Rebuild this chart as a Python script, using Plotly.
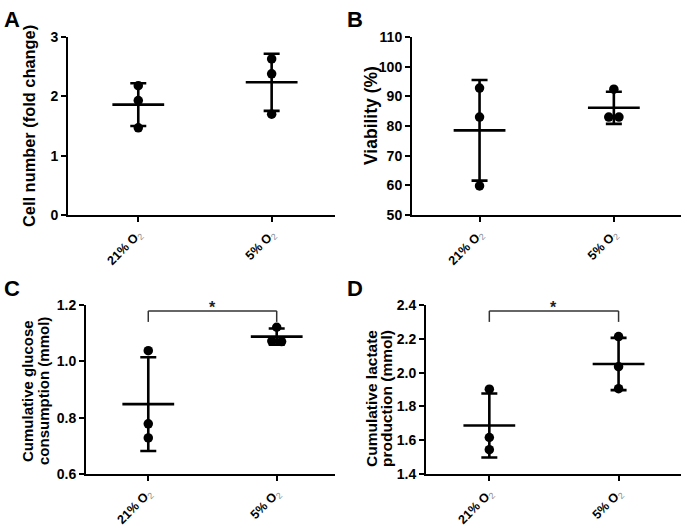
import plotly.graph_objects as go
import numpy as np

# ---------------- data ----------------
groups = ["21% O2", "5% O2"]

cell_21 = [2.18, 1.93, 1.47]
cell_5 = [2.63, 2.38, 1.70]

via_21 = [92.8, 83.0, 59.8]
via_5 = [92.4, 83.0, 83.0]

glu_21 = [1.038, 0.778, 0.728]
glu_5 = [1.121, 1.072, 1.070]

lac_21 = [1.902, 1.616, 1.544]
lac_5 = [2.213, 2.035, 1.905]

panel_letters = ["A", "B", "C", "D"]
y_titles = [["Cell number (fold change)"], ["Viability (%)"],
            ["Cumulative glucose", "consumption (mmol)"],
            ["Cumulative lactate", "production (mmol)"]]
y_ranges = [[0, 3], [50, 110], [0.6, 1.2], [1.4, 2.4]]
y_ticks = [[0, 1, 2, 3], [50, 60, 70, 80, 90, 100, 110],
           [0.6, 0.8, 1.0, 1.2], [1.4, 1.6, 1.8, 2.0, 2.2, 2.4]]
y_formats = ["{:d}", "{:d}", "{:.1f}", "{:.1f}"]
sig_panels = [False, False, True, True]

panels = [(cell_21, cell_5), (via_21, via_5), (glu_21, glu_5), (lac_21, lac_5)]

# ---------------- layout geometry (page pixels) ----------------
W, H = 687, 527


def px(xp):
    return xp / W


def py(yp):
    return 1 - yp / H


x_doms = [[px(68), px(335)], [px(412), px(681)], [px(86), px(335)], [px(426), px(681)]]
y_doms = [[py(215), py(37)], [py(215), py(37)], [py(474), py(305)], [py(474), py(305)]]
x_ranges = [[-0.527, 1.475], [-0.503, 1.50], [-0.485, 1.454], [-0.49, 1.483]]

# y-title placement: x centre of each line, y centre, font size
title_x = [[29], [371], [27, 43], [371, 386]]
title_y = [126, 116, 391, 399]
title_size = [16.4, 17.5, 15, 15.5]
letter_pos = [(2, 5), (345, 5), (2, 274), (345, 274)]

FONT = "Liberation Sans, Arial, sans-serif"
tick_text = ["<b>" + g.replace("O2", "O</b><sub><span style='color:#8a8a8a'>2</span></sub>")
             for g in groups]


def jitter(vals, yrange, step=0.038):
    """Spread points that would overlap at nearly the same value."""
    vals = list(vals)
    tol = 0.04 * (yrange[1] - yrange[0])
    offs = [0.0] * len(vals)
    used = [False] * len(vals)
    for i in range(len(vals)):
        if used[i]:
            continue
        cluster = [i]
        for j in range(i + 1, len(vals)):
            if not used[j] and abs(vals[j] - vals[i]) < tol:
                cluster.append(j)
        n = len(cluster)
        for k, idx in enumerate(cluster):
            used[idx] = True
            offs[idx] = (k - (n - 1) / 2) * 2 * step / (n - 1) if n > 1 else 0.0
    return offs


fig = go.Figure()

for p, (g21, g5) in enumerate(panels):
    sfx = "" if p == 0 else str(p + 1)
    xa, ya = "x" + sfx, "y" + sfx
    for gi, vals in enumerate([g21, g5]):
        vals = np.array(vals, dtype=float)
        offs = jitter(vals, y_ranges[p])
        xs = [gi + o for o in offs]
        fig.add_trace(go.Scatter(
            x=xs, y=vals, mode="markers", xaxis=xa, yaxis=ya,
            marker=dict(symbol="circle", size=9.5, color="black"),
            showlegend=False, hoverinfo="y"))
        mean = vals.mean()
        sd = vals.std(ddof=1)
        fig.add_trace(go.Scatter(
            x=[gi], y=[mean], mode="markers", xaxis=xa, yaxis=ya,
            marker=dict(symbol="line-ew", size=37, color="black",
                        line=dict(color="black", width=2.6)),
            error_y=dict(type="data", array=[sd], visible=True,
                         color="black", thickness=2.6, width=8),
            showlegend=False, hoverinfo="y"))

layout = dict(
    width=W, height=H,
    margin=dict(l=0, r=0, t=0, b=0, pad=0, autoexpand=False),
    paper_bgcolor="white", plot_bgcolor="white",
    font=dict(family=FONT, color="black", size=13),
    showlegend=False,
)

annotations = []
shapes = []
for p in range(4):
    sfx = "" if p == 0 else str(p + 1)
    layout["xaxis" + sfx] = dict(
        domain=x_doms[p], anchor="y" + sfx, range=x_ranges[p], automargin=False,
        tickmode="array", tickvals=[0, 1], ticktext=tick_text,
        tickangle=-45, ticks="outside", ticklen=5, tickwidth=2, tickcolor="black",
        showline=True, linecolor="black", linewidth=2,
        showgrid=False, zeroline=False, fixedrange=True,
        tickfont=dict(family=FONT, size=12.5, color="black"),
    )
    layout["yaxis" + sfx] = dict(
        domain=y_doms[p], anchor="x" + sfx, range=y_ranges[p], automargin=False,
        tickmode="array", tickvals=y_ticks[p],
        ticktext=["<b>" + y_formats[p].format(v) + "</b>" for v in y_ticks[p]],
        ticks="outside", ticklen=5, tickwidth=2, tickcolor="black",
        showline=True, linecolor="black", linewidth=2,
        showgrid=False, zeroline=False, fixedrange=True,
        tickfont=dict(family=FONT, size=14, color="black"),
    )
    # y-axis titles (one annotation per line)
    for line_text, lx in zip(y_titles[p], title_x[p]):
        annotations.append(dict(
            text="<b>" + line_text + "</b>", xref="paper", yref="paper",
            x=px(lx), y=py(title_y[p]), xanchor="center", yanchor="middle",
            textangle=-90, showarrow=False,
            font=dict(family=FONT, size=title_size[p], color="black")))
    # panel letters
    lx, ly = letter_pos[p]
    annotations.append(dict(
        text="<b>" + panel_letters[p] + "</b>", xref="paper", yref="paper",
        x=px(lx), y=py(ly), xanchor="left", yanchor="top", showarrow=False,
        font=dict(family=FONT, size=22, color="black")))
    if sig_panels[p]:
        xr, yr = "x" + sfx, "y" + sfx + " domain"
        line = dict(color="#333333", width=1.5)
        shapes.append(dict(type="line", xref=xr, yref=yr, x0=0, x1=1, y0=0.965, y1=0.965, line=line))
        shapes.append(dict(type="line", xref=xr, yref=yr, x0=0, x1=0, y0=0.90, y1=0.965, line=line))
        shapes.append(dict(type="line", xref=xr, yref=yr, x0=1, x1=1, y0=0.90, y1=0.965, line=line))
        annotations.append(dict(
            text="<b>*</b>", xref=xr, yref=yr, x=0.5, y=0.985, xanchor="center", yanchor="middle",
            showarrow=False, font=dict(family=FONT, size=16, color="#222222")))

layout["annotations"] = annotations
layout["shapes"] = shapes
fig.update_layout(**layout)

fig.write_html(
    "out.html",
    config={"displayModeBar": False, "staticPlot": True},
    post_script="document.body.style.margin='0';document.body.style.overflow='hidden';",
)
